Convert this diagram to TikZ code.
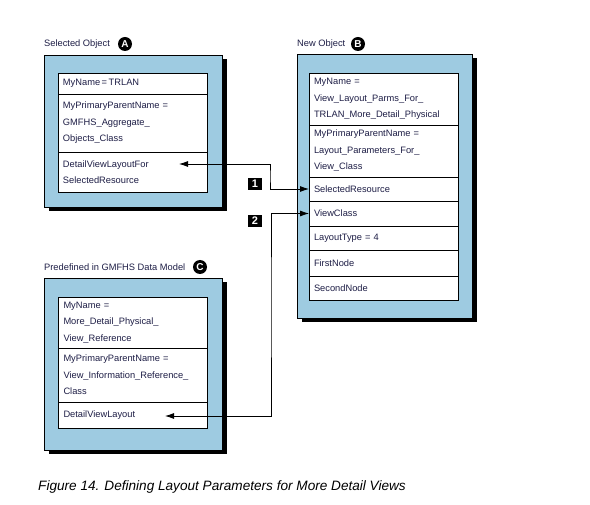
\documentclass[tikz,border=0pt]{standalone}
\usepackage{fontspec}
\setmainfont{Liberation Sans}
\usetikzlibrary{arrows.meta,positioning}
\definecolor{objblue}{RGB}{158,203,225}
\definecolor{txtnavy}{RGB}{30,30,70}

\begin{document}
\begin{tikzpicture}[x=1pt,y=-1pt]
\tikzset{row/.style={draw,fill=white,rectangle,anchor=north,text width=139pt,
  inner xsep=5pt,inner ysep=0pt,outer sep=0pt,align=left,text=txtnavy,
  font=\fontsize{9.3}{16.5}\selectfont,line width=0.6pt},
  badge/.style={circle,fill=black,text=white,inner sep=0pt,minimum size=14pt,
  font=\fontsize{10}{10}\selectfont\bfseries},
  callout/.style={rectangle,fill=black,text=white,inner sep=0pt,minimum width=14pt,
  minimum height=12pt,font=\fontsize{11}{11}\selectfont\bfseries},
  heading/.style={anchor=west,inner sep=0pt,text=txtnavy,font=\fontsize{9.3}{11}\selectfont},
  link/.style={{Latex[length=9pt,width=6pt]}-{Latex[length=9pt,width=6pt]},line width=0.8pt}}
\useasboundingbox (0,0) rectangle (590,505);

% object A
\node[heading] (labA) at (44,44) {Selected Object};
\node[badge] (badA) at (125,44) {A};
\fill (48.5,59.5) rectangle (226.5,211.5);
\draw[fill=objblue,line width=0.8pt] (44,55) rectangle (222,207);
\node[row,minimum height=21pt] (arow1) at (132.5,73) {MyName\,=\,TRLAN};
\node[row,minimum height=58pt,below=0pt of arow1] (arow2) {MyPrimaryParentName =\\GMFHS\_Aggregate\_\\Objects\_Class};
\node[row,minimum height=40pt,below=0pt of arow2] (arow3) {DetailViewLayoutFor\\SelectedResource};

% object B
\node[heading] (labB) at (297,44) {New Object};
\node[badge] (badB) at (358,44) {B};
\fill (301.5,58.5) rectangle (476.5,322.5);
\draw[fill=objblue,line width=0.8pt] (297,54) rectangle (472,318);
\node[row,minimum height=52pt] (brow1) at (383.5,73) {MyName =\\View\_Layout\_Parms\_For\_\\TRLAN\_More\_Detail\_Physical};
\node[row,minimum height=52pt,below=0pt of brow1] (brow2) {MyPrimaryParentName =\\Layout\_Parameters\_For\_\\View\_Class};
\node[row,minimum height=24pt,below=0pt of brow2] (brow3) {SelectedResource};
\node[row,minimum height=25pt,below=0pt of brow3] (brow4) {ViewClass};
\node[row,minimum height=24pt,below=0pt of brow4] (brow5) {LayoutType = 4};
\node[row,minimum height=26pt,below=0pt of brow5] (brow6) {FirstNode};
\node[row,minimum height=24pt,below=0pt of brow6] (brow7) {SecondNode};

% object C
\node[heading] (labC) at (44,267) {Predefined in GMFHS Data Model};
\node[badge] (badC) at (200,267) {C};
\fill (48.5,282.5) rectangle (226.5,454.5);
\draw[fill=objblue,line width=0.8pt] (44,278) rectangle (222,450);
\node[row,minimum height=51pt] (crow1) at (133,297) {MyName =\\More\_Detail\_Physical\_\\View\_Reference};
\node[row,minimum height=54pt,below=0pt of crow1] (crow2) {MyPrimaryParentName =\\View\_Information\_Reference\_\\Class};
\node[row,minimum height=26pt,below=0pt of crow2] (crow3) {DetailViewLayout};

% links
\coordinate (tipA) at (179,164);
\coordinate (jog1) at (270,176);
\draw[link] (tipA) -| (jog1) |- (brow3.west);
\coordinate (tipC) at (165,416);
\coordinate (jog2) at (271,300);
\draw[link] (tipC) -| (jog2) |- (brow4.west);
\node[callout] (n1) at (255,184) {1};
\node[callout] (n2) at (255,221) {2};

\node[anchor=west,inner sep=0pt,font=\fontsize{13.6}{14}\selectfont\itshape] (cap) at (38,487)
  {Figure 14. Defining Layout Parameters for More Detail Views};
\end{tikzpicture}
\end{document}
